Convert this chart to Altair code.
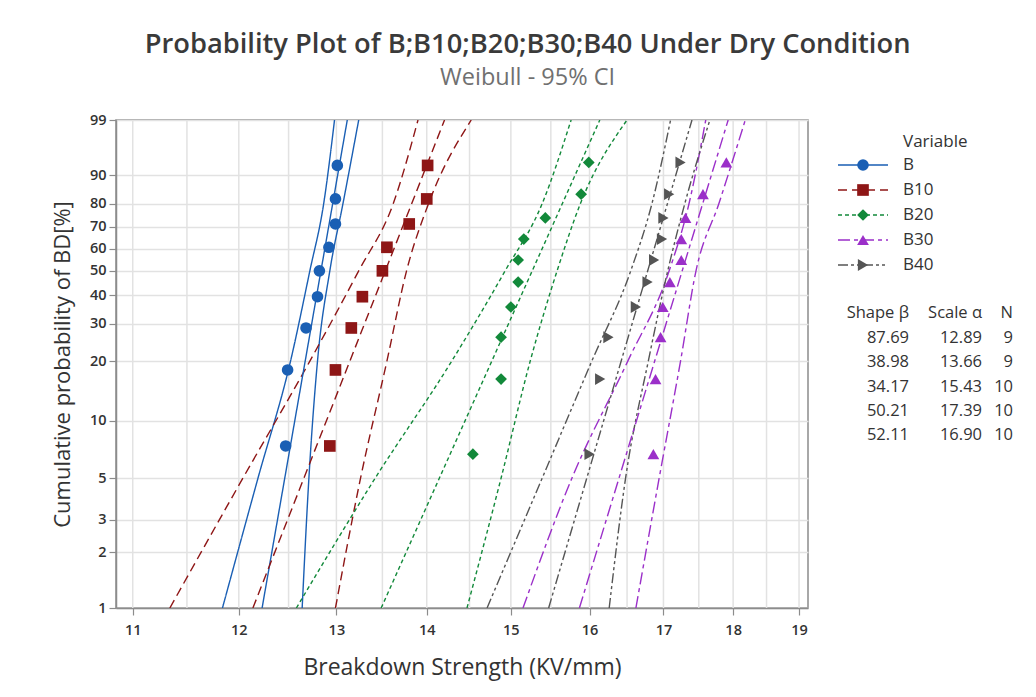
import math
import altair as alt
import pandas as pd

# ---------------- data ----------------
variables = ["B", "B10", "B20", "B30", "B40"]
shape_beta = [87.69, 38.98, 34.17, 50.21, 52.11]
scale_alpha = [12.89, 13.66, 15.43, 17.39, 16.90]
n_obs = [9, 9, 10, 10, 10]

# plotting positions (median ranks, %)
pct_n9 = [7.4, 18.1, 28.7, 39.4, 50.0, 60.6, 71.3, 81.9, 92.6]
pct_n10 = [6.7, 16.3, 26.0, 35.6, 45.2, 54.8, 64.4, 74.0, 83.7, 93.3]

obs_B = [12.47, 12.49, 12.68, 12.80, 12.82, 12.92, 12.99, 12.99, 13.01]
obs_B10 = [12.93, 12.99, 13.16, 13.28, 13.50, 13.55, 13.80, 14.00, 14.01]
obs_B20 = [14.54, 14.88, 14.88, 15.00, 15.09, 15.09, 15.16, 15.43, 15.89, 15.99]
obs_B30 = [16.86, 16.89, 16.96, 16.99, 17.09, 17.25, 17.25, 17.31, 17.56, 17.90]
obs_B40 = [16.00, 16.14, 16.25, 16.62, 16.78, 16.87, 16.98, 17.00, 17.08, 17.24]

# 95% confidence bounds read at these percent levels
ci_pct = [1, 5, 20, 50, 80, 99]
ci_B_lower = [11.84, 12.19, 12.52, 12.72, 12.865, 12.98]
ci_B_upper = [12.64, 12.71, 12.80, 12.93, 13.07, 13.24]
ci_B10_lower = [11.34, 12.04, 12.72, 13.24, 13.62, 13.90]
ci_B10_upper = [12.99, 13.26, 13.55, 13.77, 14.02, 14.52]
ci_B20_lower = [12.58, 13.42, 14.29, 14.93, 15.39, 15.76]
ci_B20_upper = [14.47, 14.88, 15.24, 15.58, 15.88, 16.50]
ci_B30_lower = [15.15, 15.77, 16.51, 17.08, 17.36, 17.60]
ci_B30_upper = [16.62, 16.94, 17.24, 17.46, 17.79, 18.18]
ci_B40_lower = [14.71, 15.39, 16.03, 16.55, 16.84, 17.10]
ci_B40_upper = [16.26, 16.48, 16.79, 17.06, 17.30, 17.66]

fit_pct = [1, 99]

y_tick_pct = [1, 2, 3, 5, 10, 20, 30, 40, 50, 60, 70, 80, 90, 99]
x_tick_vals = [11, 12, 13, 14, 15, 16, 17, 18, 19]
x_grid_vals = [11, 11.5, 12, 12.5, 13, 13.5, 14, 14.5, 15, 15.5, 16, 16.5,
               17, 17.5, 18, 18.5, 19]
x_domain = [10.85, 19.14]

# ---------------- styles ----------------
colors = ["#1a5fb4", "#8e1616", "#12893a", "#9b2fc9", "#555555"]
shapes = ["circle", "square", "diamond", "triangle-up", "triangle-right"]
sizes = [135, 140, 210, 165, 165]
dashes = [[1, 0], [9, 5], [4, 3], [12, 4, 4, 4], [10, 3, 3, 3, 3, 3]]
FONT = "Open Sans"
TXT = "#333333"
GRID = "#e2e2e2"
FRAME = "#8c8c8c"

# ---------------- tables ----------------
obs = [obs_B, obs_B10, obs_B20, obs_B30, obs_B40]
rows = []
for v, vals, n in zip(variables, obs, n_obs):
    pcts = pct_n9 if n == 9 else pct_n10
    for p, x in zip(pcts, vals):
        rows.append({"Variable": v, "pct": p, "value": x})
points_df = pd.DataFrame(rows)

lowers = [ci_B_lower, ci_B10_lower, ci_B20_lower, ci_B30_lower, ci_B40_lower]
uppers = [ci_B_upper, ci_B10_upper, ci_B20_upper, ci_B30_upper, ci_B40_upper]
rows = []
for v, lo, up in zip(variables, lowers, uppers):
    for p, a, b in zip(ci_pct, lo, up):
        rows.append({"Variable": v, "bound": v + "_lo", "pct": p, "value": a})
        rows.append({"Variable": v, "bound": v + "_up", "pct": p, "value": b})
ci_df = pd.DataFrame(rows)

rows = []
for v, b, a in zip(variables, shape_beta, scale_alpha):
    for p in fit_pct:
        rows.append({"Variable": v, "pct": p, "alpha": a, "beta": b})
fit_df = pd.DataFrame(rows)

params_df = pd.DataFrame({"Variable": variables, "beta": shape_beta,
                          "alpha": scale_alpha, "N": n_obs})

# ---------------- scales / encodings ----------------
def wb(p):
    return math.log(-math.log(1 - p / 100.0))

y_scale = alt.Scale(domain=[wb(1), wb(99)], nice=False, zero=False)
x_scale = alt.Scale(type="log", domain=x_domain, nice=False)

y_axis = alt.Axis(
    title="Cumulative probability of BD[%]",
    values=[wb(p) for p in y_tick_pct],
    labelExpr="format(100*(1-exp(-exp(datum.value))), '.0f')",
    grid=True, gridColor=GRID, gridWidth=1.5,
    domainColor=FRAME, domainWidth=1.5,
    tickColor=FRAME, tickSize=7, tickWidth=1.2,
    labelFontSize=14.5, labelColor=TXT, labelFontWeight=600, labelPadding=3,
    titleFontSize=22, titleColor=TXT, titleFontWeight="normal", titlePadding=15,
)
x_axis = alt.Axis(
    title="Breakdown Strength (KV/mm)",
    values=x_tick_vals, format="d", grid=False,
    domainColor=FRAME, domainWidth=1.5,
    tickColor=FRAME, tickSize=7, tickWidth=1.2,
    labelFontSize=14.5, labelColor=TXT, labelFontWeight=600, labelPadding=8,
    labelFlush=False,
    titleFontSize=23, titleColor=TXT, titleFontWeight="normal", titlePadding=20,
)

X = alt.X("value:Q", scale=x_scale, axis=x_axis)
Y = alt.Y("wy:Q", scale=y_scale, axis=y_axis)
color = alt.Color("Variable:N", scale=alt.Scale(domain=variables, range=colors), legend=None)
shape = alt.Shape("Variable:N", scale=alt.Scale(domain=variables, range=shapes), legend=None)
msize = alt.Size("Variable:O", scale=alt.Scale(domain=variables, range=sizes), legend=None)
dash = alt.StrokeDash("Variable:N", scale=alt.Scale(domain=variables, range=dashes), legend=None)
wy_calc = "log(-log(1 - datum.pct/100))"

W, H = 692, 488

vgrid = alt.Chart(pd.DataFrame({"value": x_grid_vals})).mark_rule(
    color=GRID, strokeWidth=1.5
).encode(x=X)

ci_lines = alt.Chart(ci_df).transform_calculate(wy=wy_calc).mark_line(
    strokeWidth=1.4, interpolate="monotone", clip=True
).encode(x=X, y=Y, color=color, strokeDash=dash, detail="bound:N",
         order=alt.Order("pct:Q"))

fit_lines = alt.Chart(fit_df).transform_calculate(
    wy=wy_calc,
    value="datum.alpha * pow(-log(1 - datum.pct/100), 1/datum.beta)",
).mark_line(strokeWidth=1.4, clip=True).encode(
    x=X, y=Y, color=color, strokeDash=dash, order=alt.Order("pct:Q"))

pts = alt.Chart(points_df).transform_calculate(wy=wy_calc).mark_point(
    filled=True, opacity=1
).encode(x=X, y=Y, color=color, shape=shape, size=msize)

main = alt.layer(vgrid, ci_lines, fit_lines, pts).properties(
    width=W, height=H,
    view=alt.ViewBackground(stroke=FRAME, strokeWidth=1.5),
)

# ---------------- legend panel ----------------
leg_y = alt.Y("Variable:N", scale=alt.Scale(type="point", domain=variables,
                                            range=[45, 145], padding=0), axis=None)
tbl_y = alt.Y("Variable:N", scale=alt.Scale(type="point", domain=variables,
                                            range=[218, 315], padding=0), axis=None)
leg_color = alt.Color("Variable:N", scale=alt.Scale(domain=variables, range=colors), legend=None)
leg_shape = alt.Shape("Variable:N", scale=alt.Scale(domain=variables, range=shapes), legend=None)
leg_size = alt.Size("Variable:O", scale=alt.Scale(domain=variables, range=sizes), legend=None)
leg_dash = alt.StrokeDash("Variable:N", scale=alt.Scale(domain=variables, range=dashes), legend=None)

LEG_FS = 17
TBL_FS = 16.5

leg_title = alt.Chart(pd.DataFrame({"t": ["Variable"]})).mark_text(
    align="left", baseline="middle", fontSize=LEG_FS, color=TXT
).encode(x=alt.value(87), y=alt.value(22), text="t:N")

leg_rule = alt.Chart(params_df).mark_rule(strokeWidth=1.5).encode(
    x=alt.value(22), x2=alt.value(72), y=leg_y, color=leg_color, strokeDash=leg_dash)

leg_pt = alt.Chart(params_df).mark_point(filled=True, opacity=1).encode(
    x=alt.value(47), y=leg_y, color=leg_color, shape=leg_shape, size=leg_size)

leg_lab = alt.Chart(params_df).mark_text(
    align="left", baseline="middle", fontSize=LEG_FS, color=TXT
).encode(x=alt.value(87), y=leg_y, text="Variable:N")

header_labels = ["Shape β", "Scale α", "N"]
hdr = [
    alt.Chart(pd.DataFrame({"t": [header_labels[i]]})).mark_text(
        align="right", baseline="middle", fontSize=TBL_FS, color=TXT
    ).encode(x=alt.value(xr), y=alt.value(193), text="t:N")
    for i, xr in enumerate([93, 166, 197])
]

tb_beta = alt.Chart(params_df).mark_text(
    align="right", baseline="middle", fontSize=TBL_FS, color=TXT
).encode(x=alt.value(93), y=tbl_y, text=alt.Text("beta:Q", format=".2f"))
tb_alpha = alt.Chart(params_df).mark_text(
    align="right", baseline="middle", fontSize=TBL_FS, color=TXT
).encode(x=alt.value(166), y=tbl_y, text=alt.Text("alpha:Q", format=".2f"))
tb_n = alt.Chart(params_df).mark_text(
    align="right", baseline="middle", fontSize=TBL_FS, color=TXT
).encode(x=alt.value(197), y=tbl_y, text=alt.Text("N:Q", format="d"))

legend_panel = alt.layer(
    leg_title, leg_rule, leg_pt, leg_lab, *hdr, tb_beta, tb_alpha, tb_n
).resolve_scale(y="independent").properties(
    width=200, height=H,
    view=alt.ViewBackground(stroke="transparent"),
)

chart = alt.hconcat(main, legend_panel, spacing=6).resolve_scale(
    x="independent", y="independent"
).properties(
    title=alt.TitleParams(
        text="Probability Plot of B;B10;B20;B30;B40 Under Dry Condition",
        subtitle="Weibull - 95% CI",
        anchor="middle", dx=-6, fontSize=27.3, fontWeight=600, color="#3a3a3a",
        subtitleFontSize=23.5, subtitleColor="#707070", subtitleFontWeight="normal",
        subtitlePadding=7, offset=22, font=FONT, subtitleFont=FONT,
    ),
    padding={"left": 50, "top": 31, "right": 5, "bottom": 5},
    background="white",
).configure(font=FONT)

chart.save("out.html", embed_options={"renderer": "svg", "actions": False})
